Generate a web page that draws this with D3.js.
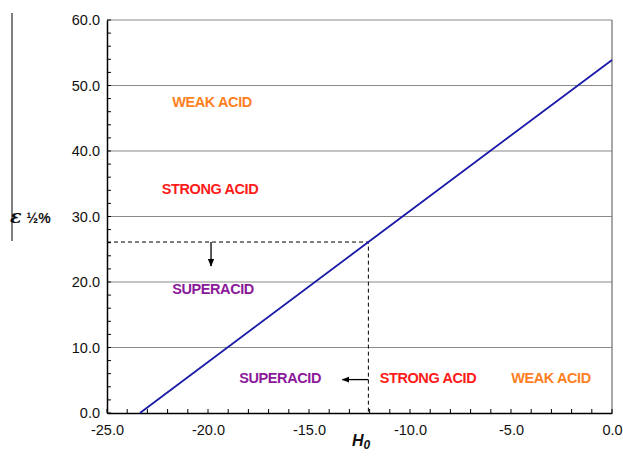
<!DOCTYPE html>
<html>
<head>
<meta charset="utf-8">
<script src="https://cdn.jsdelivr.net/npm/d3@7"></script>
<style>
  html, body { margin: 0; padding: 0; background: #fff; }
  svg { display: block; }
  text { font-family: Arial, "Liberation Sans", sans-serif; }
</style>
</head>
<body>
<svg id="chart" width="623" height="469"></svg>
<script>
// Hammett acidity H0 vs. ε½% correlation
const h0Values = [-23.37, -12.06, 0.0];
const epsValues = [0.0, 26.1, 53.9];

const xTicks = [-25, -20, -15, -10, -5, 0];
const yTicks = [0, 10, 20, 30, 40, 50, 60];

// threshold reading (dashed guide)
const thresholdH0 = -12.06;
const thresholdEps = 26.1;

// region labels
const regionNames = ["WEAK ACID", "STRONG ACID", "SUPERACID", "SUPERACID", "STRONG ACID", "WEAK ACID"];
const regionH0 = [-19.8, -19.9, -19.75, -16.43, -9.11, -3.02];
const regionEps = [47.3, 34.0, 18.8, 5.2, 5.2, 5.2];
const regionColors = ["#ff7f1f", "#ff1a1a", "#8b1a9a", "#8b1a9a", "#ff1a1a", "#ff7f1f"];

const svg = d3.select("#chart");
const margin = { left: 107, right: 11, top: 20, bottom: 56 };
const W = 623, H = 469;
const x = d3.scaleLinear().domain([-25, 0]).range([margin.left, W - margin.right]);
const y = d3.scaleLinear().domain([0, 60]).range([H - margin.bottom, margin.top]);

const fmt = d => d3.format(".1f")(d).replace("\u2212", "-");

// gridlines
svg.append("g").selectAll("line").data(yTicks.filter(d => d > 0)).join("line")
  .attr("x1", x(-25)).attr("x2", x(0))
  .attr("y1", d => y(d)).attr("y2", d => y(d))
  .attr("stroke", "#8a8a8a").attr("stroke-width", 1.2);

// right border
svg.append("line")
  .attr("x1", x(0)).attr("x2", x(0)).attr("y1", y(0)).attr("y2", y(60))
  .attr("stroke", "#6e6e6e").attr("stroke-width", 1.2);

// minor ticks
svg.append("g").selectAll("line").data(d3.range(-25, 0.001, 1)).join("line")
  .attr("x1", d => x(d)).attr("x2", d => x(d))
  .attr("y1", y(0)).attr("y2", y(0) - 4)
  .attr("stroke", "#000").attr("stroke-width", 1);
svg.append("g").selectAll("line").data(d3.range(0, 60.001, 2)).join("line")
  .attr("x1", x(-25)).attr("x2", x(-25) + 4)
  .attr("y1", d => y(d)).attr("y2", d => y(d))
  .attr("stroke", "#000").attr("stroke-width", 1);

// axes
const xAxis = d3.axisBottom(x).tickValues(xTicks).tickFormat(fmt).tickSize(0).tickPadding(12);
const gx = svg.append("g").attr("transform", `translate(0,${y(0)})`).call(xAxis);
gx.select(".domain").attr("stroke", "#000").attr("stroke-width", 1.5);
gx.selectAll("text").attr("font-size", 14.5).attr("fill", "#111")
  .attr("font-family", "Arial, 'Liberation Sans', sans-serif");

const yAxis = d3.axisLeft(y).tickValues(yTicks).tickFormat(fmt).tickSize(0).tickPadding(7);
const gy = svg.append("g").attr("transform", `translate(${x(-25)},0)`).call(yAxis);
gy.select(".domain").attr("stroke", "#000").attr("stroke-width", 1.5);
gy.selectAll("text").attr("font-size", 14.5).attr("fill", "#111")
  .attr("font-family", "Arial, 'Liberation Sans', sans-serif");

// dashed guide lines
svg.append("path")
  .attr("d", `M${x(-25)},${y(thresholdEps)}H${x(thresholdH0)}V${y(0)}`)
  .attr("fill", "none").attr("stroke", "#000").attr("stroke-width", 1)
  .attr("stroke-dasharray", "4,3");

// data line
svg.append("path")
  .datum(h0Values.map((h, i) => [h, epsValues[i]]))
  .attr("d", d3.line().x(d => x(d[0])).y(d => y(d[1])))
  .attr("fill", "none").attr("stroke", "#1a1aa8").attr("stroke-width", 1.8);

// arrows
svg.append("defs").append("marker")
  .attr("id", "arr").attr("viewBox", "0 0 10 10").attr("refX", 9).attr("refY", 5)
  .attr("markerWidth", 6).attr("markerHeight", 6).attr("orient", "auto")
  .append("path").attr("d", "M0,1L10,5L0,9Z").attr("fill", "#000");
svg.append("line")
  .attr("x1", x(-19.85)).attr("x2", x(-19.85))
  .attr("y1", y(thresholdEps)).attr("y2", y(thresholdEps) + 24)
  .attr("stroke", "#000").attr("stroke-width", 1.3).attr("marker-end", "url(#arr)");
svg.append("line")
  .attr("x1", x(thresholdH0)).attr("x2", x(thresholdH0) - 26)
  .attr("y1", y(5.1)).attr("y2", y(5.1))
  .attr("stroke", "#000").attr("stroke-width", 1.3).attr("marker-end", "url(#arr)");

// region labels
svg.append("g").selectAll("text").data(regionNames).join("text")
  .attr("x", (d, i) => x(regionH0[i])).attr("y", (d, i) => y(regionEps[i]))
  .attr("text-anchor", "middle").attr("dominant-baseline", "middle")
  .attr("font-size", 14.5).attr("font-weight", "bold").attr("letter-spacing", "-0.4")
  .attr("fill", (d, i) => regionColors[i])
  .text(d => d);

// axis titles
const xt = svg.append("text").attr("x", 352).attr("y", 446)
  .attr("font-size", 16).attr("font-weight", "bold").attr("font-style", "italic")
  .attr("fill", "#111");
xt.append("tspan").text("H");
xt.append("tspan").attr("font-size", 12).attr("dy", 3).text("0");

const yt = svg.append("text").attr("x", 10).attr("y", 223)
  .attr("font-weight", "bold").attr("fill", "#111");
yt.append("tspan").attr("font-style", "italic").attr("font-size", 19)
  .attr("font-family", "'DejaVu Serif', serif").text("ε");
yt.append("tspan").attr("dx", 5).attr("font-size", 14).text("½%");

// left rule
svg.append("line")
  .attr("x1", 12).attr("x2", 12).attr("y1", 13).attr("y2", 241)
  .attr("stroke", "#000").attr("stroke-width", 1);
</script>
</body>
</html>
